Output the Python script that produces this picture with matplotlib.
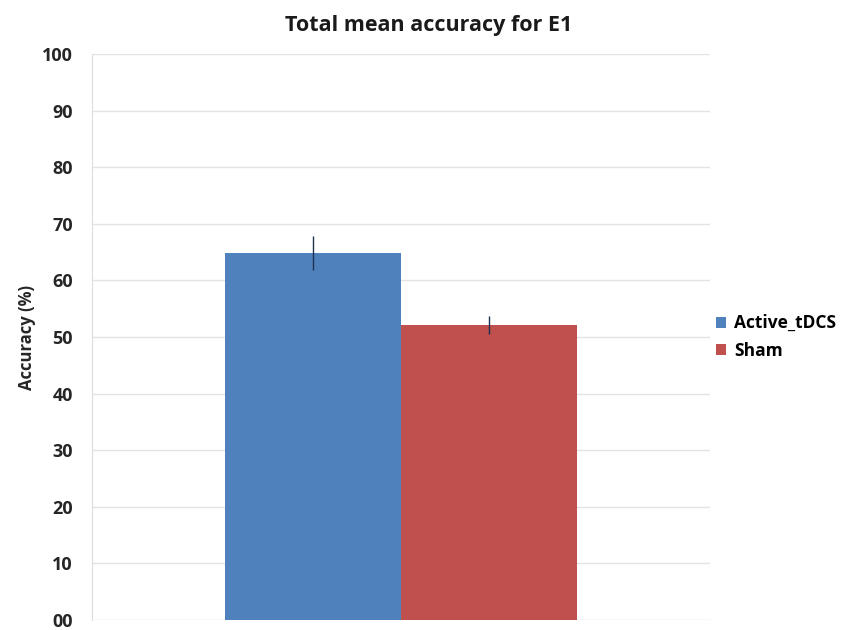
import matplotlib
matplotlib.use("Agg")
import matplotlib.pyplot as plt
import numpy as np

plt.rcParams['font.family'] = ['Open Sans', 'DejaVu Sans']

groups = ["Active_tDCS", "Sham"]
means = [64.8, 52.1]
errors = [3.0, 1.6]
colors = ["#4F81BD", "#C0504D"]
yticks = [0, 10, 20, 30, 40, 50, 60, 70, 80, 90, 100]
ytick_labels = ["00", "10", "20", "30", "40", "50", "60", "70", "80", "90", "100"]

fig = plt.figure(figsize=(8.53, 6.30), dpi=100)
ax = fig.add_axes([0.108, 0.016, 0.724, 0.898])

width = 0.285
offsets = [-width / 2, width / 2]
for name, m, e, c, off in zip(groups, means, errors, colors, offsets):
    ax.bar(off, m, width=width, color=c, label=name, zorder=2)
    ax.errorbar(off, m, yerr=e, fmt='none', ecolor='#1f3050', elinewidth=1.0,
                capsize=0, zorder=3)

ax.set_xlim(-0.5, 0.5)
ax.set_ylim(0, 100)
ax.set_yticks(yticks)
ax.set_yticklabels(ytick_labels, fontsize=13, fontweight='bold', color='#262626')
ax.set_xticks([])
ax.grid(axis='y', color='#e3e3e3', linewidth=1.0, zorder=0)
for s in ['top', 'right', 'bottom']:
    ax.spines[s].set_visible(False)
ax.spines['left'].set_color('#dddddd')
ax.tick_params(axis='y', length=0, pad=14)

ax.set_ylabel("Accuracy (%)", fontsize=12, fontweight='bold', color='#262626', labelpad=4)
fig.text(429 / 853, 1 - 25 / 630, "Total mean accuracy for E1", fontsize=15.5,
         fontweight='bold', color='#1a1a1a', ha='center', va='center')

ax.legend(loc='center left', bbox_to_anchor=(0.985, 0.50), frameon=False,
          handlelength=0.6, handleheight=0.6, handletextpad=0.45,
          prop={'size': 12.5, 'weight': 'bold'}, labelspacing=0.55)

fig.savefig("out.png", dpi=100, facecolor='white')
